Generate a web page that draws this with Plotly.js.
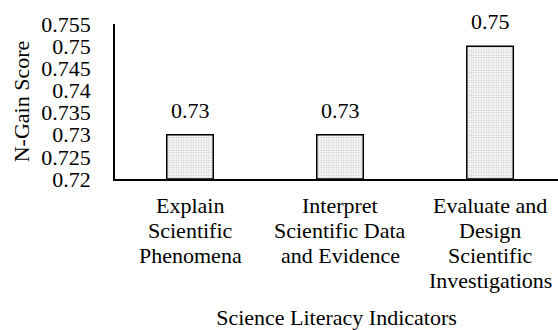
<!DOCTYPE html>
<html><head><meta charset="utf-8">
<script src="https://cdn.plot.ly/plotly-3.0.1.min.js"></script>
<style>html,body{margin:0;padding:0;background:#fff}</style>
</head><body><div id="chart" style="width:558px;height:330px"></div>
<script>
const categories = ["Explain Scientific Phenomena", "Interpret Scientific Data and Evidence", "Evaluate and Design Scientific Investigations"];
const categoryLines = [["Explain", "Scientific", "Phenomena"], ["Interpret", "Scientific Data", "and Evidence"], ["Evaluate and", "Design", "Scientific", "Investigations"]];
const values = [0.73, 0.73, 0.75];
const valueLabels = ["0.73", "0.73", "0.75"];
const yTicks = [0.72, 0.725, 0.73, 0.735, 0.74, 0.745, 0.75, 0.755];
const yTickText = ["0.72", "0.725", "0.73", "0.735", "0.74", "0.745", "0.75", "0.755"];

const baseVal = 0.72;
const font = {family: "'Liberation Serif', 'Times New Roman', Times, serif", size: 22, color: "#000"};
const xs = categories.map((c, i) => i);
const LINE = 25, FIRST = 13;
const catAnn = [];
categoryLines.forEach((lines, i) => lines.forEach((t, k) => catAnn.push({
  x: xs[i], xref: "x", y: 0, yref: "paper", yanchor: "top", yshift: -(FIRST + LINE * k),
  text: t, showarrow: false, font: font, borderpad: 0
})));
Plotly.newPlot("chart", [{
  type: "bar",
  x: xs,
  y: values.map(v => v - baseVal),
  base: baseVal,
  width: 0.31,
  marker: {color: "#ffffff", line: {color: "#000", width: 1.5},
    pattern: {shape: ".", size: 2.5, solidity: 0.4, fgcolor: "#8a8a8a", bgcolor: "#fff", fillmode: "overlay"}},
  hoverinfo: "none"
}], {
  width: 558, height: 330,
  margin: {l: 115, r: 0, t: 24, b: 151},
  paper_bgcolor: "#fff", plot_bgcolor: "#fff",
  font: font,
  showlegend: false,
  xaxis: {range: [-0.5, 2.453], tickvals: xs, ticktext: categories, showticklabels: false, showline: true, linecolor: "#000", linewidth: 1.5,
    ticks: "", showgrid: false, zeroline: false, tickfont: font,
    title: {text: "Science Literacy Indicators", font: font, standoff: 131}},
  yaxis: {range: [0.72, 0.755], tickvals: yTicks, ticktext: yTickText, showline: true, linecolor: "#000", linewidth: 1.5,
    ticks: "", showgrid: false, zeroline: false, tickfont: font, ticklabelstandoff: 18,
    title: {text: "N-Gain Score", font: font, standoff: 6}},
  annotations: values.map((v, i) => ({x: xs[i], y: v, xref: "x", yref: "y", text: valueLabels[i], showarrow: false,
    yanchor: "bottom", yshift: 10, font: font})).concat(catAnn)
}, {displayModeBar: false});
</script></body></html>
